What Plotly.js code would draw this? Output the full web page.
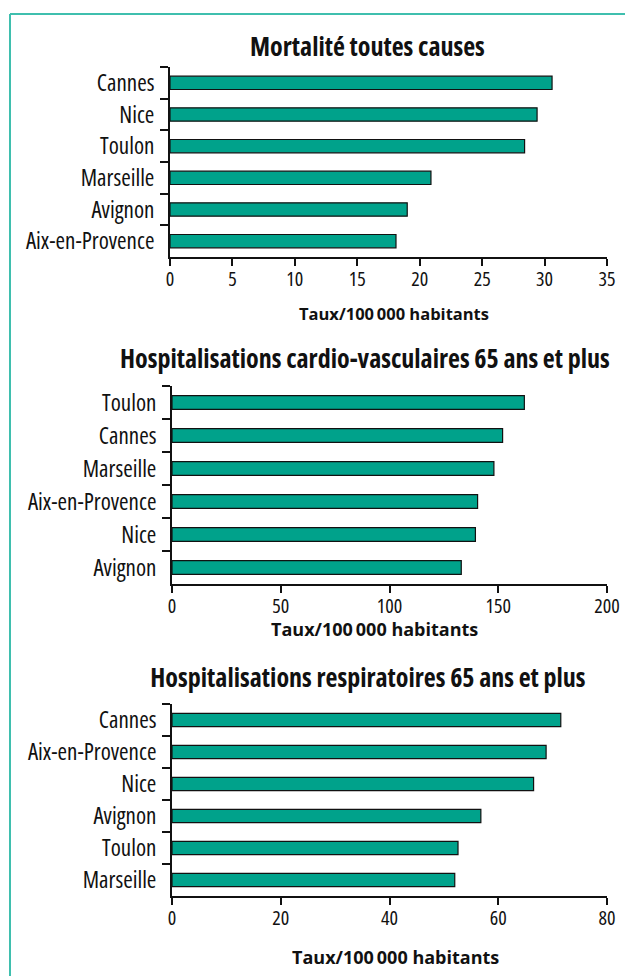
<!DOCTYPE html>
<html><head><meta charset="utf-8">
<script src="https://cdn.plot.ly/plotly-3.0.1.min.js"></script>
<style>
html,body{margin:0;padding:0;background:#fff;}
#chart{width:625px;height:976px;}
#chart .annotation-text{font-stretch:100%;}
#chart .annotation[data-index="0"] .annotation-text,
#chart .annotation[data-index="2"] .annotation-text,
#chart .annotation[data-index="4"] .annotation-text{font-stretch:75%;}
#chart .xaxislayer-above text,
#chart .yaxislayer-above text{font-stretch:75%;}
</style>
</head><body><div id="chart"></div>
<script>
const W = 625, H = 976;

// ---- data ----
const mortCities = ['Cannes','Nice','Toulon','Marseille','Avignon','Aix-en-Provence'];
const mortValues = [30.6, 29.4, 28.4, 20.9, 19.0, 18.1];
const cardioCities = ['Toulon','Cannes','Marseille','Aix-en-Provence','Nice','Avignon'];
const cardioValues = [162, 152, 148, 140.5, 139.5, 133];
const respCities = ['Cannes','Aix-en-Provence','Nice','Avignon','Toulon','Marseille'];
const respValues = [71.5, 68.8, 66.5, 56.8, 52.6, 52.0];
const mortTicks = [0,5,10,15,20,25,30,35];
const cardioTicks = [0,50,100,150,200];
const respTicks = [0,20,40,60,80];
const chartTitles = ['Mortalité toutes causes',
  'Hospitalisations cardio-vasculaires 65 ans et plus',
  'Hospitalisations respiratoires 65 ans et plus'];
const axisTitle = 'Taux/100\u2009000 habitants';

// ---- style ----
const FONT = '"Open Sans","DejaVu Sans Condensed",sans-serif';
const BAR = '#00a28b';
const INK = '#111111';
const FRAME = '#3fbfae';

const px = v => v / W;
const py = v => 1 - v / H;

function bar(cities, values, n) {
  return {
    type: 'bar', orientation: 'h', x: values, y: cities,
    xaxis: 'x' + (n > 1 ? n : ''), yaxis: 'y' + (n > 1 ? n : ''),
    marker: {color: BAR, line: {color: INK, width: 1.2}},
    hoverinfo: 'skip'
  };
}
function xaxis(l, r, ticks, n) {
  return {
    domain: [px(l), px(r)], range: [ticks[0], ticks[ticks.length-1]],
    tickmode: 'array', tickvals: ticks, ticktext: ticks.map(String),
    ticks: 'outside', ticklen: 7, tickwidth: 2, tickcolor: INK,
    showline: true, linewidth: 2, linecolor: INK,
    showgrid: false, zeroline: false,
    anchor: 'y' + (n > 1 ? n : ''),
    ticklabelstandoff: -4,
    tickfont: {family: FONT, size: 20, color: INK}
  };
}
function yaxis(top, bottom, cities, n) {
  return {
    domain: [py(bottom), py(top)], type: 'category',
    categoryorder: 'array', categoryarray: cities, autorange: 'reversed',
    tickson: 'boundaries', ticks: 'outside', ticklen: 8, tickwidth: 2, tickcolor: INK,
    showline: true, linewidth: 2, linecolor: INK,
    showgrid: false, zeroline: false,
    anchor: 'x' + (n > 1 ? n : ''),
    ticklabelstandoff: 9,
    tickfont: {family: FONT, size: 23, color: INK}
  };
}
function label(text, x, y, size) {
  return {text: text, xref: 'paper', yref: 'paper', x: px(x), y: py(y),
    xanchor: 'center', yanchor: 'middle', showarrow: false,
    font: {family: FONT, size: size, color: INK, weight: 'bold'}};
}

const data = [bar(mortCities, mortValues, 1), bar(cardioCities, cardioValues, 2), bar(respCities, respValues, 3)];

const layout = {
  width: W, height: H, margin: {l: 0, r: 0, t: 0, b: 0},
  paper_bgcolor: '#fff', plot_bgcolor: '#fff', showlegend: false,
  bargap: 0.58,
  xaxis: xaxis(170, 607, mortTicks, 1),
  yaxis: yaxis(67, 257, mortCities, 1),
  xaxis2: xaxis(172, 607, cardioTicks, 2),
  yaxis2: yaxis(386, 584, cardioCities, 2),
  xaxis3: xaxis(172, 607, respTicks, 3),
  yaxis3: yaxis(704, 896, respCities, 3),
  annotations: [
    label(chartTitles[0], 367, 46, 26),
    label(axisTitle, 394, 313, 16.5),
    label(chartTitles[1], 365, 358, 26),
    label(axisTitle, 374, 629, 18),
    label(chartTitles[2], 368, 677, 26),
    label(axisTitle, 395, 957, 18)
  ],
  shapes: [
    {type: 'line', xref: 'paper', yref: 'paper', x0: px(10), x1: px(625), y0: py(14), y1: py(14), line: {color: FRAME, width: 2}},
    {type: 'line', xref: 'paper', yref: 'paper', x0: px(10), x1: px(10), y0: py(14), y1: py(976), line: {color: FRAME, width: 2}}
  ]
};

Plotly.newPlot('chart', data, layout, {displayModeBar: false, staticPlot: true});
</script>
</body></html>
